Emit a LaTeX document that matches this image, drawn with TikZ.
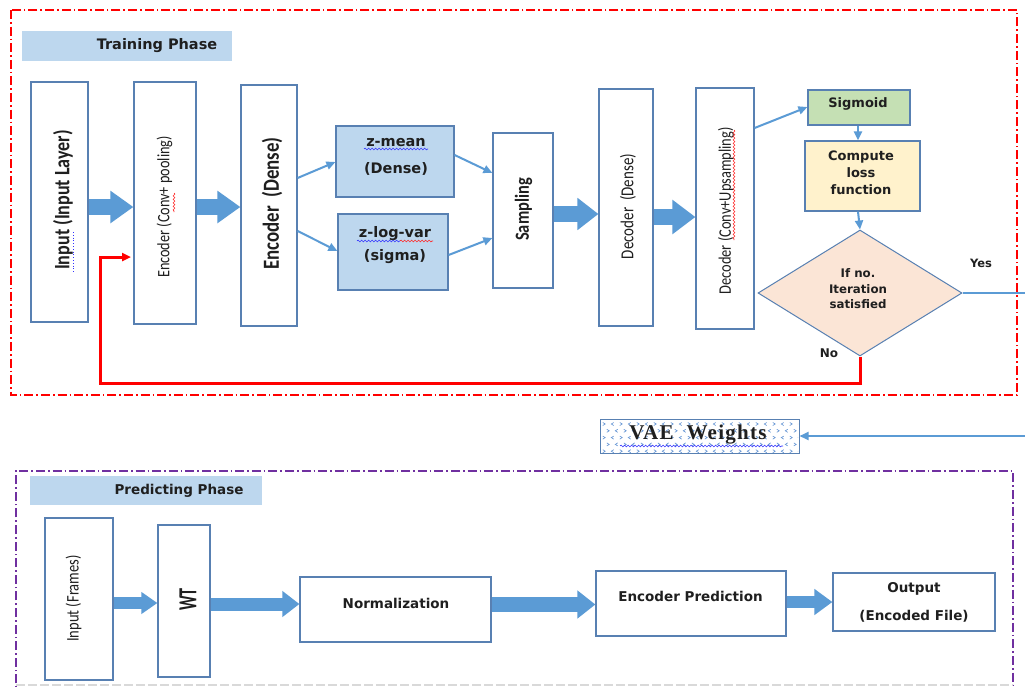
\documentclass[tikz,border=0pt]{standalone}
\usepackage{graphicx}
\usepackage{fontspec}
\usetikzlibrary{arrows.meta,shapes.geometric,decorations.pathmorphing,calc}
\newfontfamily\labfont{DejaVu Sans}
\newfontfamily\rotfont{Carlito}
\newfontfamily\serfont[LetterSpace=6]{Liberation Serif}
\definecolor{bord}{RGB}{88,128,178}
\definecolor{arrblue}{RGB}{91,155,213}
\definecolor{lblue}{RGB}{189,215,238}
\definecolor{lgreen}{RGB}{197,224,180}
\definecolor{lyellow}{RGB}{255,242,204}
\definecolor{lpeach}{RGB}{251,229,214}
\definecolor{purp}{RGB}{112,48,160}
\definecolor{patblue}{RGB}{95,145,210}
\newcommand\rtxt[3]{\rotfont\fontsize{#1}{#1}\selectfont\scalebox{#2}[1]{#3}}
\newcommand\lfont[2]{\labfont\bfseries\fontsize{#1}{#2}\selectfont}
\tikzset{
  box/.style={draw=bord, line width=1.2pt, inner sep=0pt},
  lab/.style={text=black!88, align=center, inner sep=0pt},
  rlab/.style={text=black!88, inner sep=0pt, rotate=90},
  blkarr/.style n args={3}{draw=arrblue, line width=#1, -{Triangle[length=#2, width=#3]}},
  thinarr/.style={draw=arrblue, line width=2pt, -{Triangle[length=9pt, width=8pt]}},
  fbline/.style={draw=red, line width=3pt, -{Triangle[length=9pt, width=8pt]}},
  squigb/.style={draw=blue!80, line width=0.6pt, decorate, decoration={snake, amplitude=0.9pt, segment length=3.5pt}},
  squigr/.style={draw=red!85, line width=0.6pt, decorate, decoration={snake, amplitude=0.9pt, segment length=3.5pt}},
}
\begin{document}
\begin{tikzpicture}[x=1pt,y=-1pt]
\clip (0,0) rectangle (1025,686);
\fill[white] (0,0) rectangle (1025,686);

% ---------- frames ----------
\draw[red, line width=2pt, dash pattern=on 9pt off 3pt on 1.6pt off 3pt] (11,10) rectangle (1017,395);
\draw[purp, line width=2pt, dash pattern=on 9pt off 3pt on 1.6pt off 3pt] (16,700) -- (16,471) -- (1013,471) -- (1013,700);
\draw[black!15, line width=2pt, dash pattern=on 9pt off 3pt] (16,685) -- (1013,685);

% ---------- phase labels ----------
\node[fill=lblue, minimum width=210pt, minimum height=30pt, inner sep=0pt] (trlab) at (127,46) {};
\node[lab, font=\lfont{14.5}{17}] (trtxt) at (157,46) {Training Phase};
\node[fill=lblue, minimum width=232pt, minimum height=29pt, inner sep=0pt] (prlab) at (146,490.5) {};
\node[lab, font=\lfont{13.5}{16}] (prtxt) at (179,490.5) {Predicting Phase};

% ---------- training boxes ----------
\node[box, fill=white, minimum width=57pt, minimum height=240pt] (inp) at (59.5,202) {};
\node[box, fill=white, minimum width=62pt, minimum height=242pt] (encc) at (165,203) {};
\node[box, fill=white, minimum width=56pt, minimum height=241pt] (encd) at (269,205.5) {};
\node[box, fill=lblue, minimum width=118pt, minimum height=71pt] (zmean) at (395,161.5) {};
\node[box, fill=lblue, minimum width=110pt, minimum height=76pt] (zlog) at (393,252) {};
\node[box, fill=white, minimum width=60pt, minimum height=155pt] (samp) at (523,210.5) {};
\node[box, fill=white, minimum width=54pt, minimum height=237pt] (decd) at (626,207.5) {};
\node[box, fill=white, minimum width=58pt, minimum height=241pt] (decc) at (725,208.5) {};
\node[box, fill=lgreen, minimum width=102pt, minimum height=35pt] (sig) at (859,107.5) {};
\node[box, fill=lyellow, minimum width=115pt, minimum height=70pt] (loss) at (862.5,176) {};
\node[box, fill=lpeach, diamond, minimum width=204pt, minimum height=126pt, line width=1pt] (dia) at (860,293) {};

% rotated texts
\node[rlab] (inpt) at (63,200) {\rtxt{22}{0.82}{\bfseries Input  (Input Layer)}};
\node[rlab] (encct) at (164.5,207) {\rtxt{17.4}{0.82}{Encoder (Conv+ pooling)}};
\node[rlab] (encdt) at (272,203.5) {\rtxt{23}{0.82}{\bfseries Encoder\ \ (Dense)}};
\node[rlab] (sampt) at (523.5,209.5) {\rtxt{20}{0.82}{\bfseries Sampling}};
\node[rlab] (decdt) at (628,206.5) {\rtxt{18.3}{0.82}{Decoder\ \ (Dense)}};
\node[rlab] (decct) at (726,211) {\rtxt{17.6}{0.82}{Decoder (Conv+Upsampling)}};

% horizontal texts
\node[lab, font=\lfont{14.5}{27}] (zmeant) at (396,156.5) {z-mean\\(Dense)};
\node[lab, font=\lfont{14.5}{23}] (zlogt) at (395,245.5) {z-log-var\\(sigma)};
\node[lab, font=\lfont{13}{16}] (sigt) at (858,104) {Sigmoid};
\node[lab, font=\lfont{13}{17}] (losst) at (861,173) {Compute\\loss\\function};
\node[lab, font=\lfont{11.8}{15.5}] (diat) at (858,289) {If no.\\Iteration\\satisfied};
\node[lab, font=\lfont{11.5}{14}] (yest) at (981,263) {Yes};
\node[lab, font=\lfont{12}{14}] (not) at (829,353) {No};

% spell-check squiggles
\draw[squigr] (174,193) -- (174,212);
\draw[squigr] (734,130) -- (734,240);
\draw[blue!80, line width=0.8pt, dotted] (73,232) -- (73,272);
\draw[squigb] (364,149) -- (428,149);
\draw[squigb] (357,241) -- (400,241);
\draw[squigr] (400,241) -- (433,241);

% block arrows (training)
\draw[blkarr={16pt}{23pt}{31pt}] ([yshift=-5pt]inp.east) -- ([yshift=-5pt]inp.east -| encc.west);
\draw[blkarr={16pt}{23pt}{31pt}] ([yshift=-4pt]encc.east) -- ([yshift=-4pt]encc.east -| encd.west);
\draw[blkarr={16pt}{21pt}{31pt}] ([yshift=-3.5pt]samp.east) -- ([yshift=-3.5pt]samp.east -| decd.west);
\draw[blkarr={16pt}{23pt}{33pt}] ([yshift=-9.5pt]decd.east) -- ([yshift=-9.5pt]decd.east -| decc.west);

% thin arrows
\draw[thinarr] ([yshift=27.5pt]encd.east) -- ([yshift=-0.5pt]zmean.west);
\draw[thinarr] ([yshift=-25.5pt]encd.east) -- ([yshift=1pt]zlog.west);
\draw[thinarr] ([yshift=6.5pt]zmean.east) -- ([yshift=37.5pt]samp.west);
\draw[thinarr] ([yshift=-3pt]zlog.east) -- ([yshift=-27.5pt]samp.west);
\draw[thinarr] ([yshift=80.5pt]decc.east) -- ([yshift=0.5pt]sig.west);
\draw[thinarr] ([xshift=-1pt]sig.south) -- ([xshift=-1pt]sig.south |- loss.north);
\draw[thinarr] ([xshift=-4.5pt]loss.south) -- (dia.north);

% yes path and weights
\coordinate (yesend) at (1040,293);
\draw[arrblue, line width=2pt] (dia.east) -- (yesend);
\coordinate (wsrc) at (1040,436);
% VAE weights box with pattern
\node[box, fill=white, minimum width=199pt, minimum height=34pt, line width=1pt] (vae) at (699.5,436) {};
\begin{scope}
\clip (601,420) rectangle (798,452);
\foreach \j in {0,...,4}{
  \foreach \i in {0,...,23}{
    \pgfmathsetmacro\xx{604+\i*8.5+mod(\j,2)*4}
    \pgfmathsetmacro\yy{424+\j*6.8}
    \ifodd\i
      \draw[patblue, line width=0.6pt] (\xx+1.2,\yy-1.5) -- (\xx-1.2,\yy) -- (\xx+1.2,\yy+1.5);
    \else
      \draw[patblue, line width=0.6pt] (\xx-1.2,\yy-1.5) -- (\xx+1.2,\yy) -- (\xx-1.2,\yy+1.5);
    \fi
  }
}
\end{scope}
\node[lab, font=\serfont\bfseries\fontsize{21}{22}\selectfont] (vaet) at (698,435) {VAE\ \ Weights};
\draw[squigb] (620,446) -- (783,446);
\draw[arrblue, line width=2pt, -{Triangle[length=9pt, width=8pt]}] (wsrc) -- (vae.east);

% feedback
\coordinate (fbl) at (100,383);
\coordinate (fbend) at (131,257);
\draw[fbline] (dia.south) |- (fbl) |- (fbend);

% ---------- predicting boxes ----------
\node[box, fill=white, minimum width=68pt, minimum height=162pt] (pin) at (79,599) {};
\node[box, fill=white, minimum width=52pt, minimum height=152pt] (wt) at (184,601) {};
\node[box, fill=white, minimum width=191pt, minimum height=65pt] (norm) at (395.5,609.5) {};
\node[box, fill=white, minimum width=190pt, minimum height=65pt] (encp) at (691,603.5) {};
\node[box, fill=white, minimum width=162pt, minimum height=58pt] (out) at (914,602) {};

\node[rlab] (pint) at (73.5,598.5) {\rtxt{17.7}{0.82}{Input (Frames)}};
\node[rlab] (wtt) at (188,599.5) {\rtxt{26}{0.62}{\bfseries WT}};
\node[lab, font=\lfont{13.5}{16}] (normt) at (396,603) {Normalization};
\node[lab, font=\lfont{13.5}{16}] (encpt) at (690.5,596) {Encoder Prediction};
\node[lab, font=\lfont{13.5}{28}] (outt) at (914,602) {Output\\(Encoded File)};

\draw[blkarr={12pt}{16pt}{21pt}] ([yshift=-4pt]pin.east) -- ([yshift=-4pt]pin.east -| wt.west);
\draw[blkarr={13pt}{17pt}{25pt}] ([yshift=-3pt]wt.east) -- ([yshift=-3pt]wt.east -| norm.west);
\draw[blkarr={15pt}{18pt}{27pt}] ([yshift=5pt]norm.east) -- ([yshift=5pt]norm.east -| encp.west);
\draw[blkarr={12pt}{18pt}{25pt}] ([yshift=1.5pt]encp.east) -- ([yshift=1.5pt]encp.east -| out.west);
\end{tikzpicture}
\end{document}
